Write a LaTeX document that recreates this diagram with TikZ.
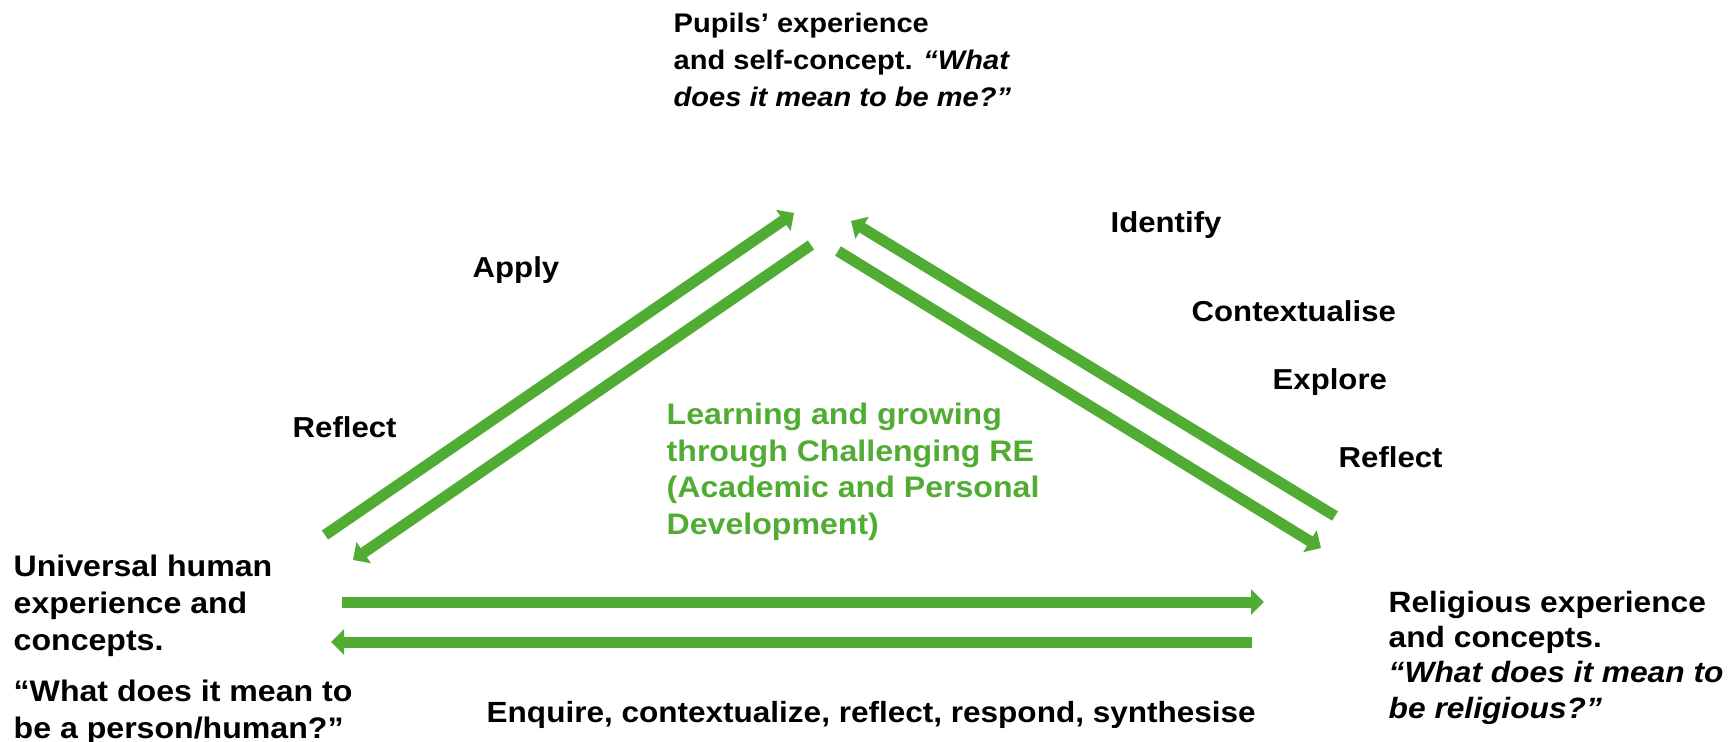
\documentclass[tikz,border=0pt]{standalone}
\usepackage{fontspec}
\setmainfont{Liberation Sans}[FakeStretch=1.08]
\usepackage{tikz}
\usetikzlibrary{arrows.meta,positioning}
\definecolor{regreen}{RGB}{80,172,50}

\tikzset{
  lbl/.style={anchor=base west, inner sep=0pt, align=left,
    font=\bfseries\fontsize{8.2}{9.5}\selectfont},
  grarrow/.style={draw=regreen, line width=0.11cm,
    -{Triangle[length=0.13cm,width=0.25cm]}}
}

\begin{document}
\begin{tikzpicture}[x=0.01cm,y=-0.01cm]
  \useasboundingbox (0,0) rectangle (1730,741);

  % corners of the triangle (base = last line)
  \node[lbl, font=\bfseries\fontsize{7.65}{10.5}\selectfont] (pupils) at (673,106)
    {Pupils’ experience\\and self-concept.  \textit{“What}\\\textit{does it mean to be me?”}};
  \node[lbl, font=\bfseries\fontsize{8.45}{10.5}\selectfont] (universal) at (13,738)
    {Universal human\\experience and\\concepts.\\[4pt]“What does it mean to\\be a person/human?”};
  \node[lbl, font=\bfseries\fontsize{8.35}{9.96}\selectfont] (religious) at (1388,718)
    {Religious experience\\and concepts.\\\textit{“What does it mean to}\\\textit{be religious?”}};

  % labels along the sides
  \node[lbl] (apply) at (472,277) {Apply};
  \node[lbl] (reflectL) at (292,437) {Reflect};
  \node[lbl] (identify) at (1110,232) {Identify};
  \node[lbl] (context) at (1191,321) {Contextualise};
  \node[lbl] (explore) at (1272,389) {Explore};
  \node[lbl] (reflectR) at (1338,467) {Reflect};
  \node[lbl, font=\bfseries\fontsize{8.3}{9.5}\selectfont] (enquire) at (486,722)
    {Enquire, contextualize, reflect, respond, synthesise};
  \node[lbl, text=regreen, font=\bfseries\fontsize{8.45}{10.35}\selectfont] (learning) at (666,534)
    {Learning and growing\\through Challenging RE\\(Academic and  Personal\\Development)};

  % arrow ends
  \coordinate (applyS) at (325,535);
  \coordinate (applyE) at (794,213);
  \coordinate (backS) at (811,245);
  \coordinate (backE) at (353,560);
  \coordinate (identS) at (1335,516);
  \coordinate (identE) at (851,221);
  \coordinate (explS) at (838,251);
  \coordinate (explE) at (1321,548);
  \coordinate (enqS) at (342,602);
  \coordinate (enqE) at (1264,602);
  \coordinate (retS) at (1252,642);
  \coordinate (retE) at (331,642);

  \draw[grarrow] (applyS) -- (applyE);
  \draw[grarrow] (backS) -- (backE);
  \draw[grarrow] (identS) -- (identE);
  \draw[grarrow] (explS) -- (explE);
  \draw[grarrow] (enqS) -- (enqE);
  \draw[grarrow] (retS) -- (retE);
\end{tikzpicture}
\end{document}
